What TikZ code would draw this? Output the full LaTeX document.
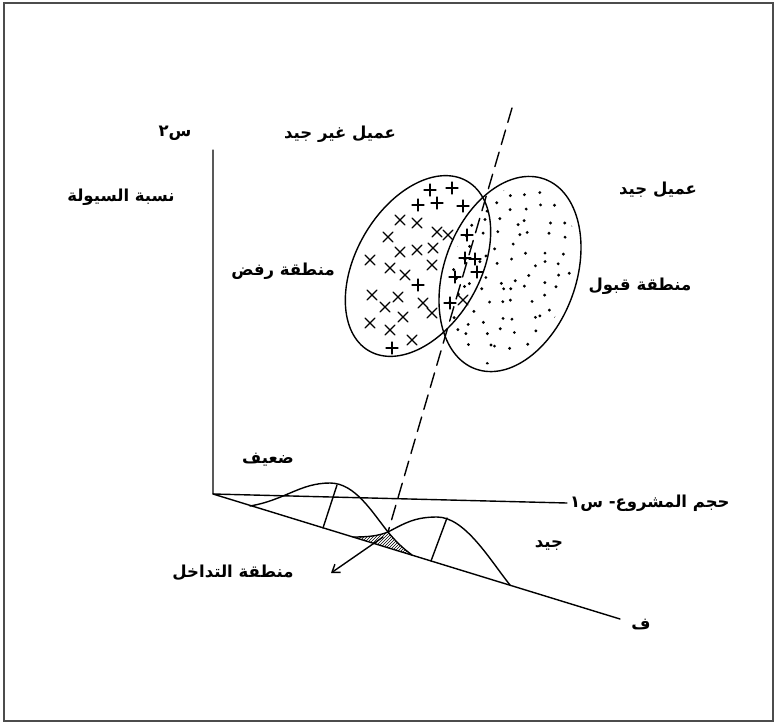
\documentclass[tikz,border=0pt]{standalone}
\usepackage{fontspec}
\newfontfamily\arabicfont[Script=Arabic]{DejaVu Sans}
\TeXXeTstate=1
\usetikzlibrary{patterns,arrows.meta}
\begin{document}
\begin{tikzpicture}[x=1pt,y=-1pt,
  ink/.style={line width=1.4pt, line cap=round, line join=round},
  lbl/.style={font=\arabicfont\bfseries\fontsize{16.5}{19}\selectfont, inner sep=0pt},
  mk/.style={line width=1.2pt, line cap=round}]
\useasboundingbox (0,0) rectangle (777,724);
\draw[line width=1.8pt, black!70] (4,3) rectangle (773,721);
% axes
\coordinate (O) at (213,494);
\coordinate (Ytop) at (213,150);
\coordinate (Xend) at (567,503);
\coordinate (Fend) at (620,619);
\draw[ink] (Ytop) -- (O) -- (Xend);
\draw[ink] (O) -- (Fend);
% ellipses
\draw[ink, rotate around={60:(418,266)}] (418,266) ellipse [x radius=98pt, y radius=62pt];
\draw[ink, rotate around={70:(510,274)}] (510,274) ellipse [x radius=101pt, y radius=66pt];
% dots in right ellipse
\begin{scope}
\clip[rotate around={70:(510,274)}] (510,274) ellipse [x radius=94pt, y radius=59pt];
\pgfmathsetseed{42}
\foreach \i in {0,...,9}{\foreach \j in {0,...,13}{
  \pgfmathsetmacro{\px}{440+\i*15+6*rand}
  \pgfmathsetmacro{\py}{180+\j*14+6*rand}
  \fill (\px,\py) circle[radius=1.6pt];}}
\end{scope}
% crosses
\foreach \x/\y in {430/190,452/188,418/205,437/203,463/206,467/235,465/258,475/259,418/285,392/348,455/277,477/272,450/303}
  \draw[mk] (\x-6,\y) -- (\x+6,\y) (\x,\y-6) -- (\x,\y+6);
\foreach \x/\y in {400/220,417/223,388/237,437/232,448/235,400/252,417/250,433/248,370/260,390/268,405/275,432/265,372/295,398/297,423/303,385/307,403/317,432/313,370/323,390/330,412/340,463/300}
  \draw[mk] (\x-5,\y-5) -- (\x+5,\y+5) (\x-5,\y+5) -- (\x+5,\y-5);
% dashed line
\coordinate (dtop) at (512,108);
\coordinate (cr) at (388,532);
\draw[ink, dash pattern=on 15pt off 8pt] (dtop) -- (cr);
% overlap hatch
\fill[pattern=north east lines] (353,537) .. controls (368,537) and (378,536) .. (388,532) .. controls (397,543) and (404,549) .. (412,555) -- cycle;
% bell curves
\draw[ink] (250,506) .. controls (285,500) and (300,483) .. (330,483) .. controls (355,483) and (372,512) .. (388,532) .. controls (397,543) and (404,549) .. (412,555);
\draw[ink] (353,537) .. controls (368,537) and (378,536) .. (388,532) .. controls (405,523) and (415,517) .. (437,517) .. controls (465,517) and (490,560) .. (510,585);
\coordinate (p1) at (337,485); \coordinate (b1) at (323,528);
\coordinate (p2) at (447,518); \coordinate (b2) at (431,561);
\draw[ink] (p1) -- (b1);
\draw[ink] (p2) -- (b2);
% arrow
\coordinate (ovl) at (383,537);
\coordinate (ovltip) at (331,573);
\draw[ink, -{Straight Barb[length=7pt,width=10pt]}] (ovl) -- (ovltip);
% labels
\node[lbl] (s2) at (175,133) {\beginR س٢\endR};
\node[lbl] (bad) at (340,134) {\beginR عميل غير جيد\endR};
\node[lbl] (liq) at (121,197) {\beginR نسبة السيولة\endR};
\node[lbl] (rej) at (283,271) {\beginR منطقة رفض\endR};
\node[lbl] (good) at (658,190) {\beginR عميل جيد\endR};
\node[lbl] (acc) at (640,286) {\beginR منطقة قبول\endR};
\node[lbl] (weak) at (268,460) {\beginR ضعيف\endR};
\node[lbl] (gd) at (549,545) {\beginR جيد\endR};
\node[lbl, anchor=west] (size) at (570,503) {\beginR حجم المشروع- س١\endR};
\node[lbl] (f) at (641,625) {\beginR ف\endR};
\node[lbl] (ovlp) at (233,573) {\beginR منطقة التداخل\endR};
\end{tikzpicture}
\end{document}
